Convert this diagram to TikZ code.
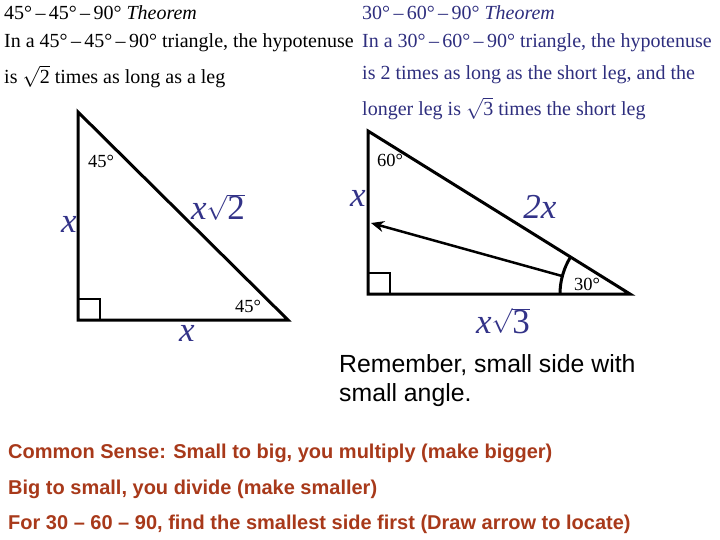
\documentclass[tikz,border=0pt]{standalone}
\usepackage{fontspec}
\usetikzlibrary{arrows.meta}
\setmainfont{Liberation Serif}
\setsansfont{Liberation Sans}
\definecolor{lblue}{HTML}{333388}
\definecolor{tblue}{HTML}{2E2E7E}
\definecolor{tred}{HTML}{A8391A}
\begin{document}
\begin{tikzpicture}[x=1pt,y=-1pt,
  tri/.style={line width=3pt,line join=miter},
  sq/.style={line width=2.5pt},
  ang/.style={font=\fontsize{18.5}{18.5}\selectfont,inner sep=0pt},
  side/.style={text=lblue,font=\fontsize{35}{35}\selectfont\itshape,inner sep=0pt},
  lt/.style={anchor=base west,inner sep=0pt,font=\fontsize{20}{20}\selectfont},
  rt/.style={anchor=base west,inner sep=0pt,text=tblue,font=\fontsize{20}{20}\selectfont},
  rem/.style={anchor=west,inner sep=0pt,font=\sffamily\fontsize{24.8}{24.8}\selectfont},
  cs/.style={anchor=west,inner sep=0pt,text=tred,font=\sffamily\bfseries\fontsize{20}{20}\selectfont}]
\useasboundingbox (0,0) rectangle (720,540);
% left text
\node[lt] (l1) at (4,20) {45°\,–\,45°\,–\,90° \textit{Theorem}};
\node[lt] (l2) at (4,48) {In a 45°\,–\,45°\,–\,90° triangle, the hypotenuse};
\node[lt] (l3) at (4,84) {is \smash{$\sqrt{\textup{2}}$} times as long as a leg};
% right text
\node[rt] (r1) at (362,20) {30°\,–\,60°\,–\,90° \textit{Theorem}};
\node[rt] (r2) at (362,48) {In a 30°\,–\,60°\,–\,90° triangle, the hypotenuse};
\node[rt] (r3) at (362,80) {is 2 times as long as the short leg, and the};
\node[rt] (r4) at (362,116) {longer leg is \smash{$\sqrt{\textup{3}}$} times the short leg};
% triangle 1
\coordinate (A) at (78,112);
\coordinate (B) at (78,320);
\coordinate (C) at (288,320);
\draw[tri] (A) -- (B) -- (C) -- cycle;
\draw[sq] (78,299) -| (100,320);
\node[ang] (a1) at (101,161) {45°};
\node[ang] (a2) at (248,306) {45°};
\node[side] (s1) at (69,224) {x};
\node[side] (s2) at (218,207) {x$\sqrt{\textup{2}}$};
\node[side] (s3) at (187,333) {x};
% triangle 2
\coordinate (D) at (368,131);
\coordinate (E) at (368,294);
\coordinate (F) at (630,294);
\draw[tri] (D) -- (E) -- (F) -- cycle;
\draw[sq] (368,273) -| (390,294);
\draw[line width=3pt] (560,294) arc[start angle=180,end angle=212,radius=70];
\coordinate (P) at (562,276);
\coordinate (Q) at (371,223);
\draw[line width=2.5pt,-{Stealth[length=13pt,width=11pt]}] (P) -- (Q);
\node[ang] (a3) at (390,160) {60°};
\node[ang] (a4) at (587,284) {30°};
\node[side] (s4) at (358,198) {x};
\node[side] (s5) at (540,207) {2x};
\node[side] (s6) at (503,321) {x$\sqrt{\textup{3}}$};
% remember
\node[rem] (m1) at (339,365) {Remember, small side with};
\node[rem] (m2) at (339,395) {small angle.};
% common sense
\node[cs] (c1) at (8,453) {Common Sense: Small to big, you multiply (make bigger)};
\node[cs] (c2) at (8,489) {Big to small, you divide (make smaller)};
\node[cs] (c3) at (8,524) {For 30 – 60 – 90, find the smallest side first (Draw arrow to locate)};
\end{tikzpicture}
\end{document}
